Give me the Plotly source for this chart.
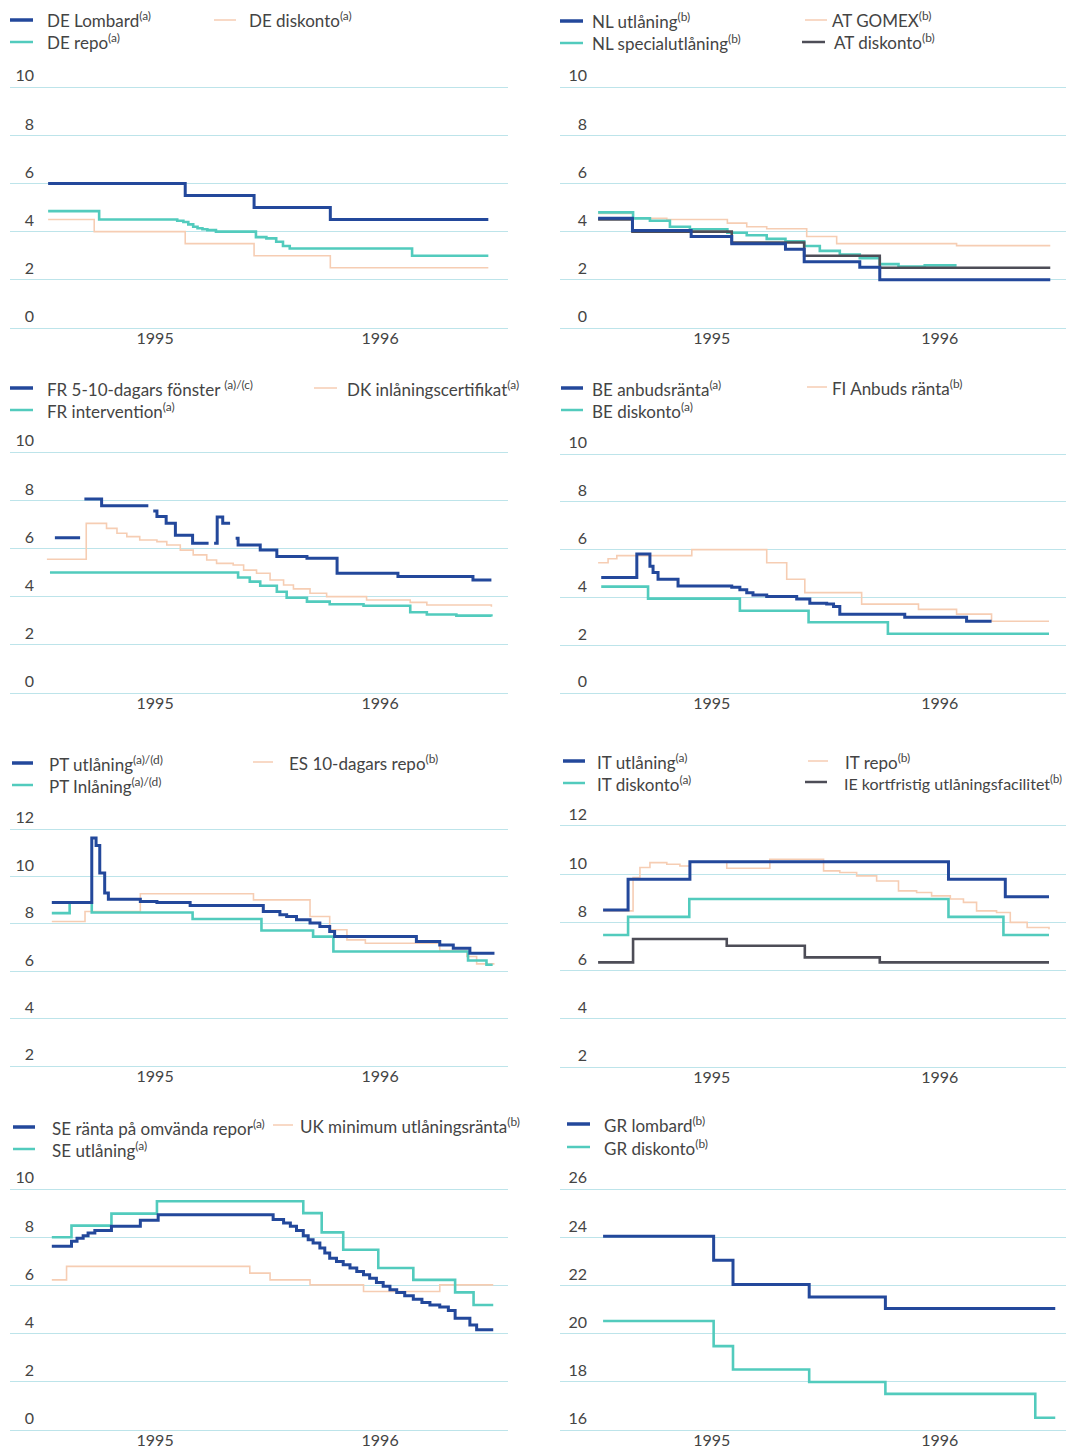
import plotly.graph_objects as go

# The page body adds an 8 px margin, so the figure is drawn 8 px smaller
# and every screen-pixel position is shifted by OFF.
OFF = 8
W, H = 1066, 1442
FONT = "Lato, 'Open Sans', sans-serif"
TXT = "#444444"
GRID = "#bde4ea"
BLUE = "#23489b"
CYAN = "#52cbbd"
PEACH = "#f6cdb3"
GREY = "#4d4d57"

# ---------------- data ----------------
# Panel 1: Germany
DE_LOMBARD_D = ["1995-01-12", "1995-08-23", "1995-12-13", "1996-04-15", "1996-12-28"]
DE_LOMBARD_V = [6.0, 5.5, 5.0, 4.5, 4.5]
DE_REPO_D = ["1995-01-12", "1995-04-05", "1995-08-10", "1995-08-20", "1995-08-28", "1995-09-05",
             "1995-09-12", "1995-09-20", "1995-09-28", "1995-10-12", "1995-12-16", "1996-01-02",
             "1996-01-18", "1996-01-29", "1996-02-09", "1996-08-26", "1996-12-28"]
DE_REPO_V = [4.85, 4.5, 4.45, 4.4, 4.3, 4.2, 4.14, 4.1, 4.06, 4.0, 3.77, 3.72, 3.58, 3.4, 3.3, 3.0, 3.0]
DE_DISK_D = ["1995-01-12", "1995-03-28", "1995-08-23", "1995-12-13", "1996-04-15", "1996-12-28"]
DE_DISK_V = [4.5, 4.0, 3.5, 3.0, 2.5, 2.5]

# Panel 2: Netherlands / Austria
NL_UTL_D = ["1995-01-01", "1995-02-25", "1995-05-30", "1995-08-03", "1995-10-28", "1995-11-27",
            "1996-02-24", "1996-03-27", "1996-12-25"]
NL_UTL_V = [4.55, 4.05, 3.8, 3.5, 3.27, 2.75, 2.52, 2.0, 2.0]
NL_SPEC_D = ["1995-01-01", "1995-02-26", "1995-03-25", "1995-04-26", "1995-05-28", "1995-07-27",
             "1995-08-27", "1995-09-28", "1995-10-28", "1995-11-27", "1995-12-22", "1996-01-23",
             "1996-02-24", "1996-03-27", "1996-04-26", "1996-06-07", "1996-07-28"]
NL_SPEC_V = [4.8, 4.55, 4.45, 4.2, 4.1, 3.95, 3.85, 3.7, 3.6, 3.4, 3.2, 3.05, 2.9, 2.65, 2.55, 2.6, 2.6]
AT_GOMEX_D = ["1995-01-01", "1995-02-26", "1995-04-21", "1995-07-27", "1995-08-27", "1995-09-28",
              "1995-12-01", "1996-01-18", "1996-07-28", "1996-12-25"]
AT_GOMEX_V = [4.75, 4.55, 4.5, 4.35, 4.2, 4.12, 3.8, 3.5, 3.42, 3.42]
AT_DISK_D = ["1995-01-01", "1995-02-25", "1995-08-03", "1995-11-27", "1996-03-27", "1996-12-25"]
AT_DISK_V = [4.5, 4.0, 3.55, 3.0, 2.5, 2.5]

# Panel 3: France / Denmark
FR_5_10_D = ["1995-01-23", "1995-03-05", "1995-03-05", "1995-03-12", "1995-04-09", "1995-06-24",
             "1995-06-24", "1995-07-02", "1995-07-08", "1995-07-23", "1995-08-07", "1995-09-04",
             "1995-09-30", "1995-09-30", "1995-10-09", "1995-10-14", "1995-10-23", "1995-11-04",
             "1995-11-04", "1995-11-13", "1995-11-17", "1995-12-23", "1996-01-19", "1996-03-08",
             "1996-04-26", "1996-08-03", "1996-12-03", "1997-01-02"]
FR_5_10_V = [6.44, 6.44, None, 8.05, 7.77, 7.77,
             None, 7.55, 7.32, 7.04, 6.55, 6.21,
             6.21, None, 6.21, 7.3, 7.04, 7.04,
             None, 6.42, 6.14, 5.93, 5.66, 5.59,
             4.97, 4.83, 4.69, 4.69]
FR_INT_D = ["1995-01-15", "1995-11-17", "1995-12-06", "1995-12-23", "1996-01-19", "1996-02-04",
            "1996-03-08", "1996-04-14", "1996-06-08", "1996-08-23", "1996-09-19", "1996-11-06",
            "1997-01-02"]
FR_INT_V = [5.0, 4.79, 4.62, 4.45, 4.2, 3.95, 3.79, 3.68, 3.62, 3.35, 3.26, 3.21, 3.17]
DK_CERT_D = ["1995-01-10", "1995-03-15", "1995-04-17", "1995-05-04", "1995-05-20", "1995-06-10",
             "1995-07-08", "1995-07-24", "1995-08-15", "1995-09-05", "1995-09-27", "1995-10-13",
             "1995-11-09", "1995-11-26", "1995-12-17", "1996-01-08", "1996-01-30", "1996-02-15",
             "1996-03-13", "1996-04-09", "1996-06-13", "1996-08-23", "1996-09-19", "1997-01-02"]
DK_CERT_V = [5.55, 7.04, 6.83, 6.63, 6.49, 6.35, 6.28, 6.14, 5.93, 5.73, 5.52, 5.38,
             5.31, 5.1, 4.97, 4.69, 4.48, 4.32, 4.14, 4.0, 3.86, 3.76, 3.65, 3.58]

# Panel 4: Belgium / Finland
BE_ANB_D = ["1995-01-06", "1995-03-04", "1995-03-25", "1995-03-30", "1995-04-07", "1995-05-09",
            "1995-08-03", "1995-08-16", "1995-08-27", "1995-09-06", "1995-09-28", "1995-11-15",
            "1995-12-06", "1996-01-02", "1996-01-13", "1996-01-23", "1996-05-06", "1996-08-13",
            "1996-09-22"]
BE_ANB_V = [4.83, 5.82, 5.3, 5.04, 4.76, 4.48, 4.42, 4.32, 4.2, 4.1, 4.04, 3.93,
            3.76, 3.72, 3.62, 3.3, 3.17, 3.0, 3.0]
BE_DISK_D = ["1995-01-06", "1995-03-22", "1995-08-16", "1995-12-04", "1996-04-09", "1996-12-23"]
BE_DISK_V = [4.45, 3.95, 3.44, 2.96, 2.48, 2.48]
FI_ANB_D = ["1995-01-01", "1995-01-17", "1995-01-31", "1995-05-31", "1995-09-28", "1995-10-30",
            "1995-11-28", "1996-02-27", "1996-05-28", "1996-07-28", "1996-09-22", "1996-12-23"]
FI_ANB_V = [5.45, 5.62, 5.75, 6.0, 5.45, 4.76, 4.2, 3.72, 3.5, 3.3, 3.0, 3.0]

# Panel 5: Portugal / Spain
PT_UTL_D = ["1995-01-18", "1995-03-24", "1995-03-31", "1995-04-06", "1995-04-14", "1995-04-20",
            "1995-06-11", "1995-07-08", "1995-08-31", "1995-12-28", "1996-01-24", "1996-02-04",
            "1996-02-20", "1996-03-13", "1996-03-29", "1996-04-14", "1996-04-22", "1996-09-02",
            "1996-10-10", "1996-11-01", "1996-11-28", "1997-01-07"]
PT_UTL_V = [8.9, 11.62, 11.3, 10.14, 9.3, 9.04, 8.94, 8.9, 8.77, 8.52, 8.38, 8.31,
            8.17, 8.03, 7.89, 7.68, 7.46, 7.25, 7.11, 6.97, 6.76, 6.76]
PT_INL_D = ["1995-01-18", "1995-02-16", "1995-03-24", "1995-09-04", "1995-12-25", "1996-03-18",
            "1996-04-20", "1996-11-25", "1996-12-25", "1997-01-04"]
PT_INL_V = [8.45, 8.9, 8.48, 8.2, 7.72, 7.46, 6.83, 6.45, 6.27, 6.27]
ES_REPO_D = ["1995-01-18", "1995-03-13", "1995-06-11", "1995-12-12", "1996-03-13", "1996-04-14",
             "1996-05-12", "1996-06-11", "1996-10-10", "1996-11-23", "1996-12-09", "1997-01-07"]
ES_REPO_V = [8.1, 8.52, 9.27, 9.01, 8.31, 7.75, 7.32, 7.18, 6.87, 6.62, 6.31, 6.31]

# Panel 6: Italy / Ireland
IT_UTL_D = ["1995-01-09", "1995-02-18", "1995-05-28", "1996-07-15", "1996-10-14", "1996-12-23"]
IT_UTL_V = [8.51, 9.79, 10.52, 9.79, 9.06, 9.06]
IT_DISK_D = ["1995-01-09", "1995-02-18", "1995-05-27", "1996-07-15", "1996-10-11", "1996-12-23"]
IT_DISK_V = [7.48, 8.23, 8.97, 8.23, 7.48, 7.48]
IT_REPO_D = ["1995-01-09", "1995-02-26", "1995-03-09", "1995-03-25", "1995-04-21", "1995-05-12",
             "1995-05-28", "1995-07-26", "1995-10-03", "1995-12-28", "1996-01-23", "1996-02-19",
             "1996-03-22", "1996-04-26", "1996-05-25", "1996-06-18", "1996-07-18", "1996-08-08",
             "1996-08-29", "1996-09-30", "1996-10-22", "1996-11-18", "1996-12-23"]
IT_REPO_V = [8.48, 9.86, 10.28, 10.48, 10.41, 10.34, 10.5, 10.25, 10.62, 10.14, 10.07, 9.93,
             9.72, 9.31, 9.24, 9.1, 8.97, 8.83, 8.48, 8.41, 8.0, 7.79, 7.72]
IE_KORT_D = ["1995-01-01", "1995-02-26", "1995-07-26", "1995-11-28", "1996-03-27", "1996-12-23"]
IE_KORT_V = [6.34, 7.31, 7.03, 6.55, 6.34, 6.34]

# Panel 7: Sweden / United Kingdom
SE_REPO_D = ["1995-01-18", "1995-02-19", "1995-02-28", "1995-03-10", "1995-03-18", "1995-03-29",
             "1995-04-25", "1995-06-11", "1995-07-10", "1996-01-13", "1996-01-30", "1996-02-10",
             "1996-02-20", "1996-03-02", "1996-03-10", "1996-03-18", "1996-03-29", "1996-04-06",
             "1996-04-14", "1996-04-25", "1996-05-06", "1996-05-17", "1996-05-28", "1996-06-08",
             "1996-06-18", "1996-06-29", "1996-07-10", "1996-07-21", "1996-08-01", "1996-08-14",
             "1996-08-28", "1996-09-11", "1996-09-24", "1996-10-10", "1996-10-24", "1996-11-04",
             "1996-11-28", "1996-12-09", "1997-01-05"]
SE_REPO_V = [7.62, 7.83, 7.96, 8.06, 8.17, 8.28, 8.45, 8.7, 8.93, 8.73, 8.59, 8.45,
             8.28, 8.06, 7.89, 7.76, 7.55, 7.34, 7.13, 6.99, 6.86, 6.72, 6.58, 6.44,
             6.3, 6.12, 5.96, 5.82, 5.71, 5.57, 5.43, 5.29, 5.19, 5.1, 4.96, 4.64,
             4.36, 4.16, 4.16]
SE_UTL_D = ["1995-01-18", "1995-02-19", "1995-04-25", "1995-07-08", "1996-03-02", "1996-04-01",
            "1996-05-06", "1996-07-02", "1996-08-28", "1996-11-04", "1996-12-04", "1997-01-05"]
SE_UTL_V = [8.0, 8.48, 8.98, 9.49, 9.0, 8.2, 7.48, 6.72, 6.23, 5.71, 5.19, 5.19]
UK_MLR_D = ["1995-01-18", "1995-02-11", "1995-12-06", "1996-01-08", "1996-03-13", "1996-06-08",
            "1996-10-10", "1997-01-05"]
UK_MLR_V = [6.23, 6.79, 6.51, 6.23, 6.02, 5.75, 6.02, 6.02]

# Panel 8: Greece
GR_LOMB_D = ["1995-01-09", "1995-07-05", "1995-08-05", "1995-12-05", "1996-04-05", "1997-01-02"]
GR_LOMB_V = [24.04, 23.04, 22.04, 21.52, 21.04, 21.04]
GR_DISK_D = ["1995-01-09", "1995-07-05", "1995-08-05", "1995-12-05", "1996-04-05", "1996-12-01",
             "1997-01-02"]
GR_DISK_V = [20.52, 19.48, 18.51, 17.99, 17.5, 16.51, 16.51]

YEAR_TICKS = ["1995", "1996"]

# ---------------- layout description (screen pixels) ----------------
LEFT = dict(x0=10, x1=508, xr=["1994-11-11", "1997-01-29"], xt=["1995-07-05", "1996-07-05"], lab=34)
RIGHT = dict(x0=560, x1=1074, xr=["1994-11-01", "1997-02-01"], xt=["1995-07-02", "1996-07-01"], lab=587)

panels = [
    dict(side=LEFT, top=87, bot=328, yr=(0, 10), dt=2,
         series=[(DE_DISK_D, DE_DISK_V, PEACH, 1.6), (DE_REPO_D, DE_REPO_V, CYAN, 2.6),
                 (DE_LOMBARD_D, DE_LOMBARD_V, BLUE, 3.0)],
         legend=[("DE Lombard<sup>(a)</sup>", BLUE, 3.5, 10, 33, 20, 45, 17),
                 ("DE repo<sup>(a)</sup>", CYAN, 2.5, 10, 33, 42, 45, 17),
                 ("DE diskonto<sup>(a)</sup>", PEACH, 1.5, 214, 236, 20, 247, 17)]),
    dict(side=RIGHT, top=87, bot=328, yr=(0, 10), dt=2,
         series=[(AT_GOMEX_D, AT_GOMEX_V, PEACH, 1.6), (NL_SPEC_D, NL_SPEC_V, CYAN, 2.6),
                 (AT_DISK_D, AT_DISK_V, GREY, 2.6), (NL_UTL_D, NL_UTL_V, BLUE, 3.0)],
         legend=[("NL utlåning<sup>(b)</sup>", BLUE, 3.5, 560, 583, 21, 590, 17),
                 ("NL specialutlåning<sup>(b)</sup>", CYAN, 2.5, 560, 583, 43, 590, 17),
                 ("AT GOMEX<sup>(b)</sup>", PEACH, 1.5, 805, 827, 20, 830, 17),
                 ("AT diskonto<sup>(b)</sup>", GREY, 2.5, 802, 825, 42, 832, 17)]),
    dict(side=LEFT, top=452, bot=693, yr=(0, 10), dt=2,
         series=[(DK_CERT_D, DK_CERT_V, PEACH, 1.6), (FR_INT_D, FR_INT_V, CYAN, 2.6),
                 (FR_5_10_D, FR_5_10_V, BLUE, 3.0)],
         legend=[("FR 5-10-dagars fönster <sup>(a)/(c)</sup>", BLUE, 3.5, 10, 33, 388, 45, 17),
                 ("FR intervention<sup>(a)</sup>", CYAN, 2.5, 10, 33, 410, 45, 17),
                 ("DK inlåningscertifikat<sup>(a)</sup>", PEACH, 1.5, 314, 337, 388, 345, 17)]),
    dict(side=RIGHT, top=454, bot=693, yr=(0, 10), dt=2,
         series=[(FI_ANB_D, FI_ANB_V, PEACH, 1.6), (BE_DISK_D, BE_DISK_V, CYAN, 2.6),
                 (BE_ANB_D, BE_ANB_V, BLUE, 3.0)],
         legend=[("BE anbudsränta<sup>(a)</sup>", BLUE, 3.5, 561, 583, 388, 590, 17),
                 ("BE diskonto<sup>(a)</sup>", CYAN, 2.5, 561, 583, 410, 590, 17),
                 ("FI Anbuds ränta<sup>(b)</sup>", PEACH, 1.5, 807, 827, 387, 830, 17)]),
    dict(side=LEFT, top=829, bot=1066, yr=(2, 12), dt=2,
         series=[(ES_REPO_D, ES_REPO_V, PEACH, 1.6), (PT_INL_D, PT_INL_V, CYAN, 2.6),
                 (PT_UTL_D, PT_UTL_V, BLUE, 3.0)],
         legend=[("PT utlåning<sup>(a)/(d)</sup>", BLUE, 3.5, 12, 33, 763, 47, 17),
                 ("PT Inlåning<sup>(a)/(d)</sup>", CYAN, 2.5, 12, 33, 785, 47, 17),
                 ("ES 10-dagars repo<sup>(b)</sup>", PEACH, 1.5, 253, 273, 762, 287, 17)]),
    dict(side=RIGHT, top=826, bot=1067, yr=(2, 12), dt=2,
         series=[(IT_REPO_D, IT_REPO_V, PEACH, 1.6), (IT_DISK_D, IT_DISK_V, CYAN, 2.6),
                 (IE_KORT_D, IE_KORT_V, GREY, 2.6), (IT_UTL_D, IT_UTL_V, BLUE, 3.0)],
         legend=[("IT utlåning<sup>(a)</sup>", BLUE, 3.5, 563, 585, 761, 595, 17),
                 ("IT diskonto<sup>(a)</sup>", CYAN, 2.5, 563, 585, 783, 595, 17),
                 ("IT repo<sup>(b)</sup>", PEACH, 1.5, 808, 828, 761, 843, 17),
                 ("IE kortfristig utlåningsfacilitet<sup>(b)</sup>", GREY, 2.5, 805, 827, 782, 842, 16)]),
    dict(side=LEFT, top=1189, bot=1430, yr=(0, 10), dt=2,
         series=[(UK_MLR_D, UK_MLR_V, PEACH, 1.6), (SE_UTL_D, SE_UTL_V, CYAN, 2.6),
                 (SE_REPO_D, SE_REPO_V, BLUE, 3.0)],
         legend=[("SE ränta på omvända repor<sup>(a)</sup>", BLUE, 3.5, 13, 35, 1127, 50, 17),
                 ("SE utlåning<sup>(a)</sup>", CYAN, 2.5, 13, 35, 1149, 50, 17),
                 ("UK minimum utlåningsränta<sup>(b)</sup>", PEACH, 1.5, 273, 293, 1125, 298, 17)]),
    dict(side=RIGHT, top=1189, bot=1430, yr=(16, 26), dt=2,
         series=[(GR_DISK_D, GR_DISK_V, CYAN, 2.6), (GR_LOMB_D, GR_LOMB_V, BLUE, 3.0)],
         legend=[("GR lombard<sup>(b)</sup>", BLUE, 3.5, 567, 590, 1124, 602, 17),
                 ("GR diskonto<sup>(b)</sup>", CYAN, 2.5, 567, 590, 1147, 602, 17)]),
]


def px(x):
    return (x - OFF) / W


def py(y):
    return 1 - (y - OFF) / H


fig = go.Figure()
annotations, shapes = [], []
PAD = 0.15

for i, p in enumerate(panels, start=1):
    s = p["side"]
    lo, hi = p["yr"]
    ppu = (p["bot"] - p["top"]) / (hi - lo)
    top_px = p["top"] - PAD * ppu
    bot_px = p["bot"] + PAD * ppu
    xa = "x" if i == 1 else f"x{i}"
    ya = "y" if i == 1 else f"y{i}"
    for d, v, c, w in p["series"]:
        fig.add_trace(go.Scatter(x=d, y=v, mode="lines", line=dict(color=c, width=w, shape="hv"),
                                 connectgaps=False, showlegend=False, hoverinfo="skip",
                                 xaxis=xa, yaxis=ya))
    ticks = list(range(lo, hi + 1, p["dt"]))
    fig.layout[f"xaxis{'' if i == 1 else i}"] = dict(
        domain=[max(0, px(s["x0"])), min(1, px(s["x1"]))], range=s["xr"], type="date", anchor=ya,
        tickvals=s["xt"], ticktext=YEAR_TICKS, showgrid=False, zeroline=False, showline=False,
        ticks="", ticklabelstandoff=-5, automargin=False,
        tickfont=dict(family=FONT, size=16, color=TXT), fixedrange=True)
    fig.layout[f"yaxis{'' if i == 1 else i}"] = dict(
        domain=[py(bot_px), py(top_px)], range=[lo - PAD, hi + PAD], anchor="free",
        position=px(s["lab"]), side="left", tickvals=ticks, showgrid=True, gridcolor=GRID,
        gridwidth=1.2, zeroline=False, showline=False, ticks="", ticklabelposition="outside top",
        automargin=False, tickfont=dict(family=FONT, size=16, color=TXT), fixedrange=True)
    for text, c, w, lx0, lx1, ly, tx, fs in p["legend"]:
        shapes.append(dict(type="line", xref="paper", yref="paper", x0=px(lx0), x1=px(lx1),
                           y0=py(ly), y1=py(ly), line=dict(color=c, width=w)))
        annotations.append(dict(text=text, xref="paper", yref="paper", x=px(tx), y=py(ly),
                                xanchor="left", yanchor="middle", showarrow=False,
                                font=dict(family=FONT, size=fs, color=TXT)))

fig.update_layout(width=W, height=H, margin=dict(l=0, r=0, t=0, b=0, autoexpand=False),
                  paper_bgcolor="white", plot_bgcolor="white",
                  annotations=annotations, shapes=shapes, showlegend=False)

fig.write_html("out.html")
